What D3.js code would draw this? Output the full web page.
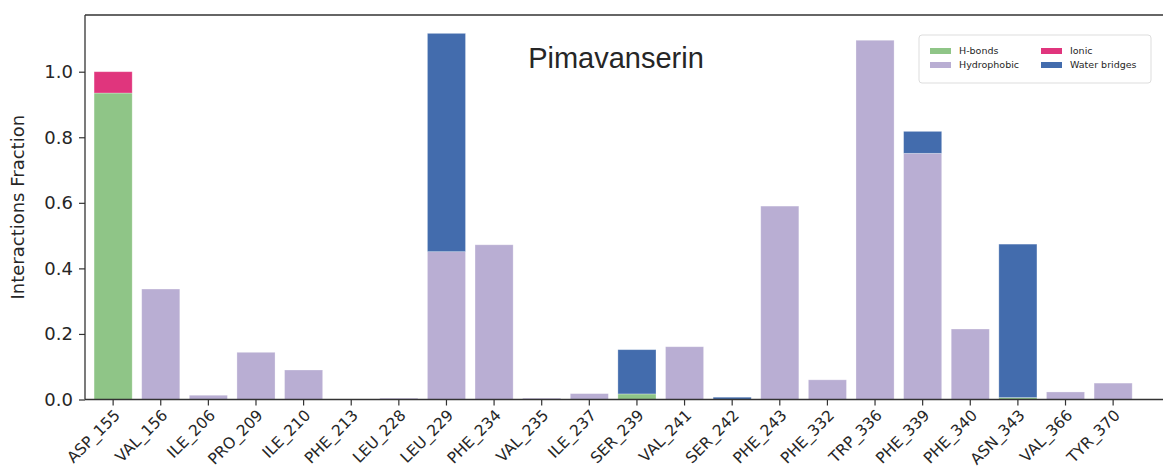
<!DOCTYPE html>
<html>
<head>
<meta charset="utf-8">
<script src="https://cdn.jsdelivr.net/npm/d3@7/dist/d3.min.js"></script>
<style>
  html, body { margin: 0; padding: 0; background: #fff; }
  svg { display: block; }
  text { font-family: "DejaVu Sans", sans-serif; fill: #262626; }
</style>
</head>
<body>
<svg id="chart" width="1163" height="473"></svg>
<script>
// Protein residues in contact with the ligand
const residues = ["ASP_155", "VAL_156", "ILE_206", "PRO_209", "ILE_210", "PHE_213",
  "LEU_228", "LEU_229", "PHE_234", "VAL_235", "ILE_237", "SER_239", "VAL_241",
  "SER_242", "PHE_243", "PHE_332", "TRP_336", "PHE_339", "PHE_340", "ASN_343",
  "VAL_366", "TYR_370"];

// Interaction fractions per residue, one array per interaction type
const hBonds      = [0.935, 0, 0, 0, 0, 0, 0, 0, 0, 0, 0, 0.017, 0, 0, 0, 0, 0, 0, 0, 0.006, 0, 0];
const hydrophobic = [0, 0.337, 0.013, 0.144, 0.090, 0, 0.004, 0.451, 0.472, 0.004, 0.018, 0, 0.161,
  0, 0.590, 0.060, 1.096, 0.751, 0.215, 0, 0.023, 0.050];
const ionic       = [0.065, 0, 0, 0, 0, 0, 0, 0, 0, 0, 0, 0, 0, 0, 0, 0, 0, 0, 0, 0, 0, 0];
const waterBridges = [0, 0, 0, 0, 0, 0, 0, 0.666, 0, 0, 0, 0.135, 0, 0.007, 0, 0, 0, 0.067, 0, 0.468, 0, 0];

const seriesNames = ["H-bonds", "Hydrophobic", "Ionic", "Water bridges"];
const seriesColors = ["#8fc587", "#b9aed3", "#e0357d", "#436cad"];
const yTicks = [0, 0.2, 0.4, 0.6, 0.8, 1.0];
const chartTitle = "Pimavanserin";
const yLabel = "Interactions Fraction";

const svg = d3.select("#chart");
const plotLeft = 85, plotRight = 1175, plotTop = 15, plotBottom = 399.5;

const table = residues.map((r, i) => ({
  residue: r,
  "H-bonds": hBonds[i],
  "Hydrophobic": hydrophobic[i],
  "Ionic": ionic[i],
  "Water bridges": waterBridges[i]
}));
const stacked = d3.stack().keys(seriesNames)(table);

const x = d3.scaleBand()
  .domain(residues)
  .range([plotLeft, plotRight])
  .paddingInner(0.2)
  .paddingOuter(0.545)
  .align(0.175);

const y = d3.scaleLinear().domain([0, 1.173]).range([plotBottom, plotTop]);
const color = d3.scaleOrdinal().domain(seriesNames).range(seriesColors);

// Stacked bars
svg.append("g")
  .selectAll("g")
  .data(stacked)
  .join("g")
  .attr("fill", d => color(d.key))
  .selectAll("rect")
  .data(d => d)
  .join("rect")
  .attr("x", d => x(d.data.residue))
  .attr("width", x.bandwidth())
  .attr("y", d => y(d[1]))
  .attr("height", d => Math.max(0, y(d[0]) - y(d[1])))
  .attr("stroke", "#fff")
  .attr("stroke-opacity", 0.35)
  .attr("stroke-width", 0.8);

// Y axis
const yAxis = svg.append("g")
  .attr("transform", `translate(${plotLeft},0)`)
  .call(d3.axisLeft(y).tickValues(yTicks).tickFormat(d3.format(".1f")).tickSize(6).tickPadding(6));
yAxis.select(".domain").remove();
yAxis.selectAll(".tick line").attr("stroke", "#333").attr("stroke-width", 1.2);
yAxis.selectAll(".tick text").attr("font-size", 18).attr("fill", "#262626");

// X axis, labels rotated so they end just under each tick
const xAxis = svg.append("g")
  .attr("transform", `translate(0,${plotBottom})`)
  .call(d3.axisBottom(x).tickSize(6).tickPadding(4));
xAxis.select(".domain").remove();
xAxis.selectAll(".tick line").attr("stroke", "#333").attr("stroke-width", 1.2);
xAxis.selectAll(".tick text")
  .attr("font-size", 15.5)
  .attr("fill", "#262626")
  .attr("text-anchor", "end")
  .attr("x", 0)
  .attr("y", 0)
  .attr("dy", "0.35em")
  .attr("transform", "translate(4,13) rotate(-45)");

// Frame
const frame = svg.append("g").attr("fill", "none").attr("stroke", "#333").attr("stroke-width", 1.3);
frame.append("line").attr("x1", plotLeft).attr("x2", plotLeft).attr("y1", plotTop).attr("y2", plotBottom);
frame.append("line").attr("x1", plotLeft).attr("x2", plotRight).attr("y1", plotTop).attr("y2", plotTop);
frame.append("line").attr("x1", plotLeft).attr("x2", plotRight).attr("y1", plotBottom).attr("y2", plotBottom);

// Y label
svg.append("text")
  .attr("transform", `translate(24,${(plotTop + plotBottom) / 2}) rotate(-90)`)
  .attr("text-anchor", "middle")
  .attr("font-size", 18)
  .text(yLabel);

// Title
svg.append("text")
  .attr("x", 616)
  .attr("y", 68)
  .attr("text-anchor", "middle")
  .attr("font-size", 29)
  .style("font-family", "'Liberation Sans', Arial, sans-serif")
  .attr("fill", "#000")
  .text(chartTitle);

// Legend
const lg = svg.append("g");
lg.append("rect")
  .attr("x", 919).attr("y", 35).attr("width", 232).attr("height", 48)
  .attr("rx", 3).attr("fill", "#fff").attr("stroke", "#ddd").attr("stroke-width", 1);
const legendItems = [
  { key: "H-bonds", col: 0, row: 0 },
  { key: "Hydrophobic", col: 0, row: 1 },
  { key: "Ionic", col: 1, row: 0 },
  { key: "Water bridges", col: 1, row: 1 }
];
const li = lg.selectAll("g.item").data(legendItems).join("g")
  .attr("class", "item")
  .attr("transform", d => `translate(${930 + d.col * 111},${46 + d.row * 14})`);
li.append("rect").attr("width", 21).attr("height", 6).attr("y", 2).attr("fill", d => color(d.key));
li.append("text").attr("x", 29).attr("y", 5).attr("dy", "0.35em")
  .attr("font-size", 9.5).text(d => d.key);
</script>
</body>
</html>
